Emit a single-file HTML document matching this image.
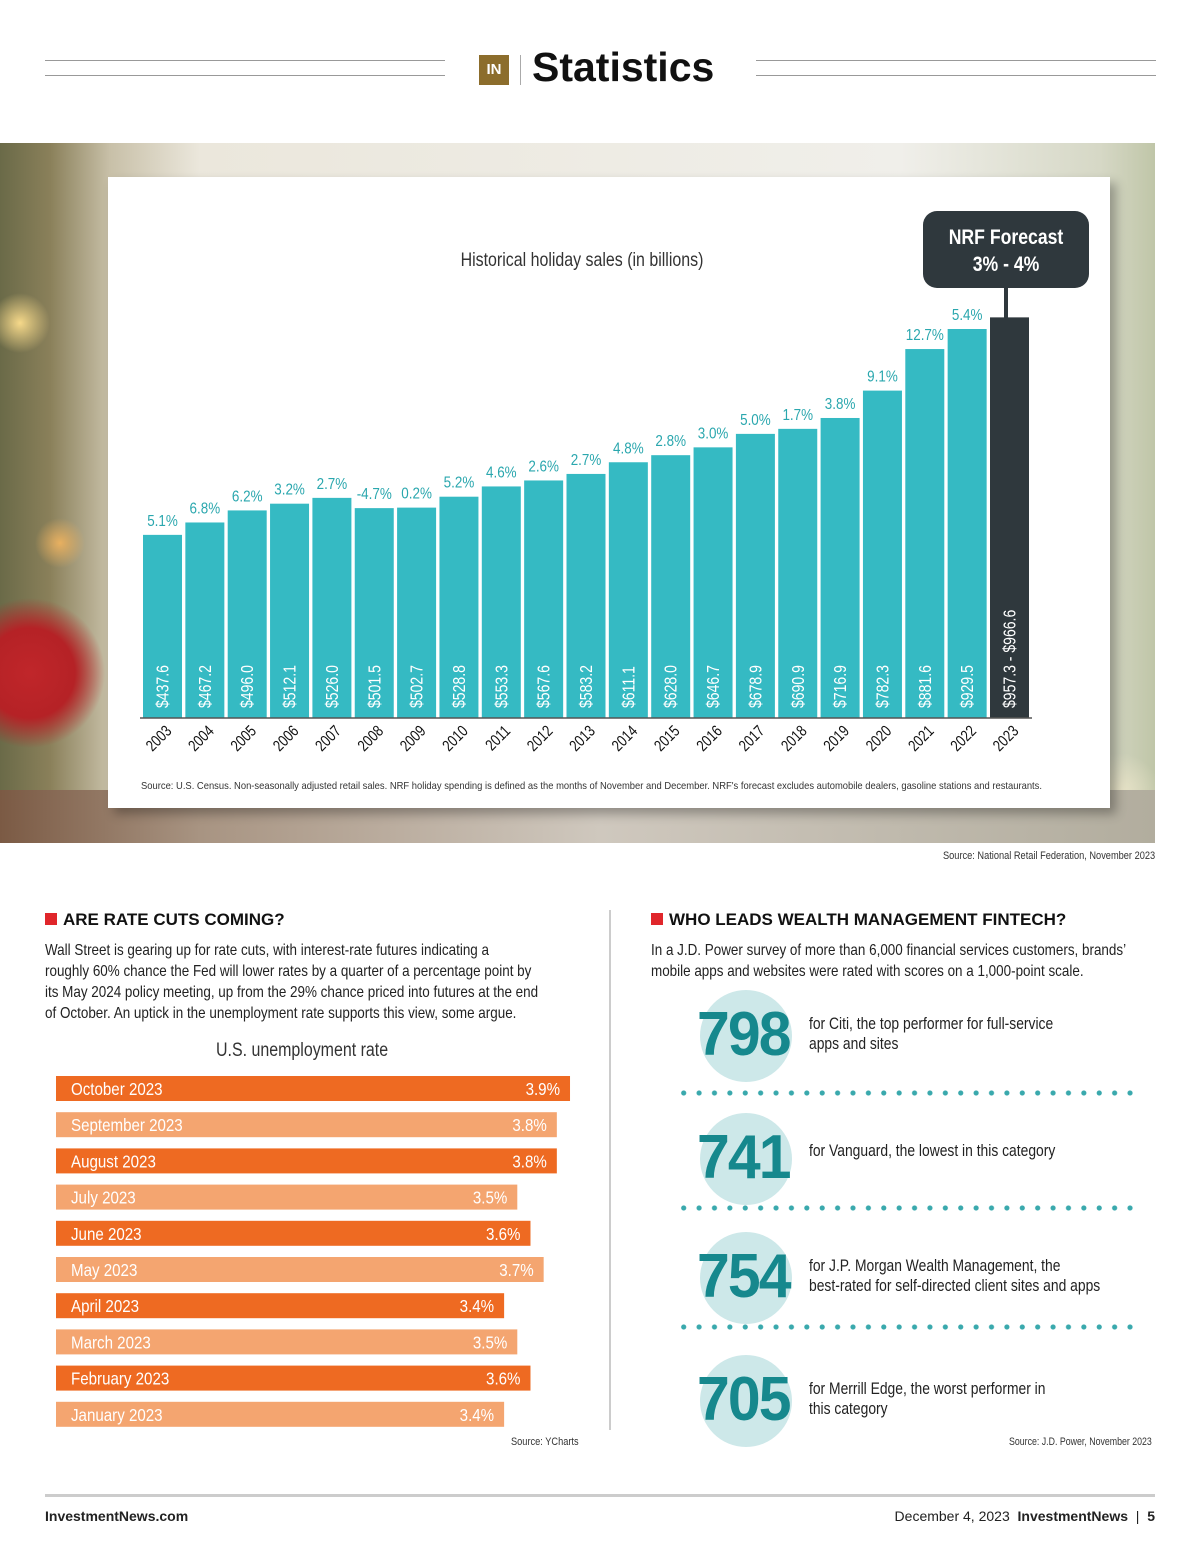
<!DOCTYPE html>
<html><head><meta charset="utf-8"><style>
body{margin:0;width:1200px;height:1560px;background:#fff;font-family:"Liberation Sans",sans-serif;position:relative;overflow:hidden;color:#222}
.abs{position:absolute}
.cond{transform:scaleX(.84);transform-origin:0 0}
</style></head><body>
<div class="abs" style="left:45px;top:60px;width:400px;height:14px;border-top:1px solid #999;border-bottom:1px solid #999"></div>
<div class="abs" style="left:756px;top:60px;width:400px;height:14px;border-top:1px solid #999;border-bottom:1px solid #999"></div>
<div class="abs" style="left:479px;top:55px;width:30px;height:30px;background:#8c6d2c;color:#fff;font-weight:bold;font-size:15px;text-align:center;line-height:30px">IN</div>
<div class="abs" style="left:520px;top:55px;width:1px;height:30px;background:#aaa"></div>
<div class="abs" style="left:532px;top:44px;font-size:41px;font-weight:bold;color:#111">Statistics</div>

<div class="abs" style="left:0;top:143px;width:1155px;height:700px;background:
radial-gradient(circle at 30px 530px,#c0262a 0,#b52226 45px,transparent 75px),
radial-gradient(circle at 20px 180px,#f6d98a 0,transparent 30px),
radial-gradient(circle at 60px 400px,#e8b060 0,transparent 25px),
radial-gradient(circle at 1120px 650px,#e9e4c8 0,transparent 40px),
linear-gradient(90deg,#6a6a48 0,#8a805a 50px,#c8c0a8 110px,#ebe7dc 200px,#f0efea 900px,#d6d8c6 1100px,#c0c6a8 1155px);"></div>
<div class="abs" style="left:0;top:790px;width:1155px;height:53px;background:linear-gradient(90deg,#7b5a44,#a89482 200px,#cfc8be 600px,#b2ad9e)"></div>

<div class="abs" style="left:108px;top:177px;width:1002px;height:631px;background:#fff;box-shadow:6px 6px 10px rgba(0,0,0,.3)"></div>
<svg class="abs" style="left:0;top:0" width="1200" height="860">
<text x="0" y="0" transform="translate(582,266) scale(.84,1)" text-anchor="middle" font-size="19" fill="#333">Historical holiday sales (in billions)</text>
<g id="bars"></g>
<line x1="140" y1="718" x2="1032" y2="718" stroke="#555" stroke-width="1.5"/>
<rect x="923" y="211" width="166" height="77" rx="14" fill="#2f383d"/>
<line x1="1006" y1="288" x2="1006" y2="319" stroke="#2f383d" stroke-width="4"/>
<text transform="translate(1006,244) scale(.84,1)" text-anchor="middle" font-size="21" font-weight="bold" fill="#fff">NRF Forecast</text>
<text transform="translate(1006,271) scale(.84,1)" text-anchor="middle" font-size="21" font-weight="bold" fill="#fff">3% - 4%</text>
<text x="141" y="789" font-size="10.5" fill="#333" textLength="901" lengthAdjust="spacingAndGlyphs">Source: U.S. Census. Non-seasonally adjusted retail sales. NRF holiday spending is defined as the months of November and December. NRF's forecast excludes automobile dealers, gasoline stations and restaurants.</text>
</svg>
<div class="abs" style="left:943px;top:850px;font-size:11px;color:#333;transform:scaleX(.84);transform-origin:0 0;white-space:nowrap">Source: National Retail Federation, November 2023</div>

<div class="abs" style="left:609px;top:910px;width:2px;height:520px;background:#ccc"></div>

<div class="abs" style="left:45px;top:910px;font-size:17px;font-weight:bold;color:#111"><span style="display:inline-block;width:12px;height:12px;background:#e0262b;margin-right:6px"></span>ARE RATE CUTS COMING?</div>
<div class="abs cond" style="left:45px;top:940px;width:700px;white-space:nowrap;font-size:16px;line-height:21px;color:#222">Wall Street is gearing up for rate cuts, with interest-rate futures indicating a<br>roughly 60% chance the Fed will lower rates by a quarter of a percentage point by<br>its May 2024 policy meeting, up from the 29% chance priced into futures at the end<br>of October. An uptick in the unemployment rate supports this view, some argue.</div>
<div class="abs" style="left:216px;top:1040px;font-size:19px;color:#333;transform:scaleX(.84);transform-origin:0 0;white-space:nowrap">U.S. unemployment rate</div>
<svg class="abs" style="left:0;top:1060px" width="600" height="380"><g id="ubars"></g></svg>
<div class="abs" style="left:511px;top:1436px;font-size:11px;color:#333;transform:scaleX(.84);transform-origin:0 0;white-space:nowrap">Source: YCharts</div>

<div class="abs" style="left:651px;top:910px;font-size:17px;font-weight:bold;color:#111"><span style="display:inline-block;width:12px;height:12px;background:#e0262b;margin-right:6px"></span>WHO LEADS WEALTH MANAGEMENT FINTECH?</div>
<div class="abs cond" style="left:651px;top:940px;width:600px;font-size:16px;line-height:21px;color:#222">In a J.D. Power survey of more than 6,000 financial services customers, brands’ mobile apps and websites were rated with scores on a 1,000-point scale.</div>
<div id="scores"></div>
<div class="abs" style="left:1009px;top:1436px;font-size:11px;color:#333;transform:scaleX(.8);transform-origin:0 0;white-space:nowrap">Source: J.D. Power, November 2023</div>

<div class="abs" style="left:45px;top:1494px;width:1110px;height:3px;background:#ccc"></div>
<div class="abs" style="left:45px;top:1508px;font-size:14px;font-weight:bold">InvestmentNews.com</div>
<div class="abs" style="right:45px;top:1508px;font-size:14px">December 4, 2023 &nbsp;<b>InvestmentNews</b> &nbsp;|&nbsp; <b>5</b></div>

<script>
const years=["2003","2004","2005","2006","2007","2008","2009","2010","2011","2012","2013","2014","2015","2016","2017","2018","2019","2020","2021","2022","2023"];
const sales=[437.6,467.2,496.0,512.1,526.0,501.5,502.7,528.8,553.3,567.6,583.2,611.1,628.0,646.7,678.9,690.9,716.9,782.3,881.6,929.5,957.3];
const growth=["5.1%","6.8%","6.2%","3.2%","2.7%","-4.7%","0.2%","5.2%","4.6%","2.6%","2.7%","4.8%","2.8%","3.0%","5.0%","1.7%","3.8%","9.1%","12.7%","5.4%",""];
const valueLabels=["$437.6","$467.2","$496.0","$512.1","$526.0","$501.5","$502.7","$528.8","$553.3","$567.6","$583.2","$611.1","$628.0","$646.7","$678.9","$690.9","$716.9","$782.3","$881.6","$929.5","$957.3 - $966.6"];
const NS="http://www.w3.org/2000/svg";
const x0=143,step=42.35,bw=39,base=718,k=0.4185;
const xS=i=>x0+i*step, yS=v=>base-v*k;
function mk(t,a,p){const e=document.createElementNS(NS,t);for(const n in a)e.setAttribute(n,a[n]);p.appendChild(e);return e;}
const g=document.getElementById('bars');
sales.forEach((v,i)=>{
 const last=i===sales.length-1;
 const r=mk('rect',{x:xS(i),y:yS(v),width:bw,height:base-yS(v),fill:last?'#2f383d':'#35bac3'},g);
 
 
 const cx=xS(i)+bw/2;
 if(growth[i]){const t=mk('text',{x:0,y:0,'text-anchor':'middle','font-size':16,fill:'#2aa7ae',transform:`translate(${cx},${yS(v)-9}) scale(.84,1)`},g);t.textContent=growth[i];
 
 }
 const vl=mk('text',{x:0,y:0,'font-size':18,fill:'#fff',transform:`translate(${cx+6},${base-10}) rotate(-90) scale(.78,1)`},g);vl.textContent=valueLabels[i];
 
 
 const yl=mk('text',{x:0,y:0,'font-size':16,fill:'#111','text-anchor':'end',transform:`translate(${cx+10},${base+14}) rotate(-45) scale(.8,1)`},g);yl.textContent=years[i];
 
 
});
const months=["October 2023","September 2023","August 2023","July 2023","June 2023","May 2023","April 2023","March 2023","February 2023","January 2023"];
const rates=[3.9,3.8,3.8,3.5,3.6,3.7,3.4,3.5,3.6,3.4];
const ug=document.getElementById('ubars');
const ux=56,uk=131.8,ustep=36.2;
rates.forEach((v,i)=>{
 const y=16+i*ustep, w=v*uk;
 const r=mk('rect',{x:ux,y:y,width:w,height:25,fill:i%2===0?'#ee6a22':'#f4a570'},ug);
 
 
 const t=mk('text',{x:0,y:0,'font-size':18,fill:'#fff',transform:`translate(71,${y+19}) scale(.84,1)`},ug);t.textContent=months[i];
 const t2=mk('text',{x:0,y:0,'font-size':18,fill:'#fff','text-anchor':'end',transform:`translate(${ux+w-10},${y+19}) scale(.84,1)`},ug);t2.textContent=v.toFixed(1)+'%';
});
const scores=["798","741","754","705"];
const scoreText=["for Citi, the top performer for full-service<br>apps and sites","for Vanguard, the lowest in this category","for J.P. Morgan Wealth Management, the<br>best-rated for self-directed client sites and apps","for Merrill Edge, the worst performer in<br>this category"];
const tops=[990,1113,1232,1355];
const sc=document.getElementById('scores');
scores.forEach((s,i)=>{
 const d=document.createElement('div');d.className='abs';d.style.cssText=`left:0;top:${tops[i]}px`;
 d.innerHTML=`<div class="abs" style="left:700px;top:0;width:92px;height:92px;border-radius:50%;background:#cde8e9"></div>
 <div class="abs" style="left:697px;top:12px;font-size:62px;font-weight:bold;color:#16888d;letter-spacing:-2px;line-height:66px;transform:scaleX(.95);transform-origin:0 0">${s}</div>
 <div class="abs cond" style="left:809px;top:${scoreText[i].includes('<br>')?24:28}px;width:420px;font-size:16.5px;line-height:20px;color:#222">${scoreText[i]}</div>`;
 
 
 sc.appendChild(d);
 if(i<3){const dl=document.createElement('div');dl.className='abs';
 dl.style.cssText=`left:676px;top:${[1090,1205,1324][i]}px;width:462px;height:6px;background:radial-gradient(circle,#3aa9ad 2.3px,transparent 2.8px) 0 0/15.4px 6px repeat-x`;
 
 
 sc.appendChild(dl);}
});
</script>
</body></html>
